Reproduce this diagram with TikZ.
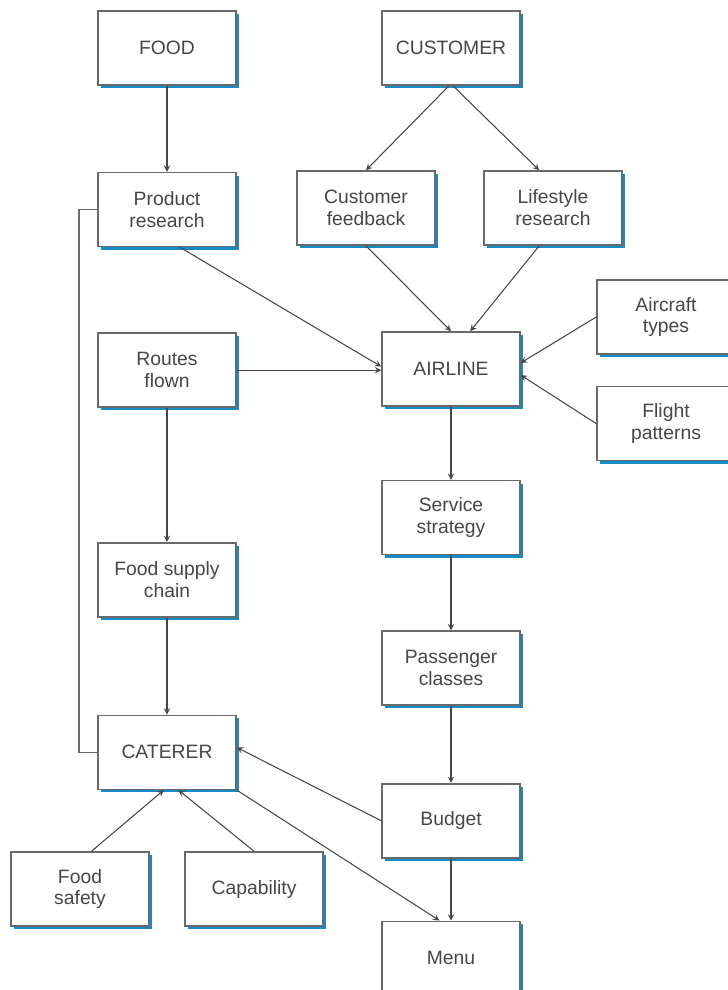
\documentclass[tikz,border=0pt]{standalone}
\usepackage{fontspec}
\setmainfont{Liberation Sans}
\usetikzlibrary{positioning, shadows}

\definecolor{shadowblue}{RGB}{20,140,200}
\definecolor{boxgray}{RGB}{105,105,105}
\definecolor{textgray}{RGB}{70,70,70}

\tikzset{
  box/.style={draw=boxgray, line width=0.9pt, fill=white,
    minimum width=2.76cm, minimum height=1.48cm, inner sep=0pt,
    align=center, text=textgray, font=\fontsize{11}{12.5}\selectfont,
    drop shadow={shadow xshift=1.7pt, shadow yshift=-1.7pt,
      fill=shadowblue, opacity=1}},
  link/.style={->, >=stealth, draw=textgray, line width=0.6pt}
}

\begin{document}
\begin{tikzpicture}
    \useasboundingbox (0,0) rectangle (14.54,-19.8);

    \node[box] (food) at (3.34,-0.96) {FOOD};
    \node[box] (customer) at (9.02,-0.96) {CUSTOMER};

    \node[box, below = 1.72 of food] (product-research) {Product\\research};
    \node[box] (customer-feedback) at (7.32,-4.16) {Customer\\feedback};
    \node[box] (lifestyle-research) at (11.06,-4.16) {Lifestyle\\research};

    \node[box] (airline) at (9.02,-7.38) {AIRLINE};
    \node[box] (aircraft-types) at (13.32,-6.34) {Aircraft\\types};
    \node[box, below = 0.62 of aircraft-types] (flight-patterns)
      {Flight\\patterns};

    \node[box, below = 1.7 of product-research] (routes-flown)
      {Routes\\flown};
    \node[box, below = 2.68 of routes-flown] (food-supply-chain)
      {Food supply\\chain};
    \node[box, below = 1.94 of food-supply-chain] (caterer) {CATERER};

    \node[box, below = 1.46 of airline] (service-strategy)
      {Service\\strategy};
    \node[box, below = 1.5 of service-strategy] (passenger-classes)
      {Passenger\\classes};
    \node[box, below = 1.54 of passenger-classes] (budget) {Budget};
    \node[box, below = 1.24 of budget] (menu) {Menu};

    \node[box] (food-safety) at (1.6,-17.78) {Food\\safety};
    \node[box] (capability) at (5.08,-17.78) {Capability};

    \draw[link] (food) -- (product-research);
    \draw[link] (customer.-93) -- (customer-feedback.north);
    \draw[link] (customer.-87) -- (lifestyle-research.110);

    \draw[link] (product-research.-71) -- (airline.178);
    \draw[link] (routes-flown.east) -- (routes-flown.east -| airline.west);
    \draw[link] (customer-feedback.south) -- (airline.north);
    \draw[link] (lifestyle-research.-110) -- (airline.63);
    \draw[link] (aircraft-types.west) -- (airline.5);
    \draw[link] (flight-patterns.west) -- (airline.-5);

    \foreach \a/\b in {airline/service-strategy,
      service-strategy/passenger-classes, passenger-classes/budget,
      budget/menu, routes-flown/food-supply-chain,
      food-supply-chain/caterer}{
      \draw[link] (\a) -- (\b);
    }

    \draw[link] (budget.west) -- (caterer.4);
    \draw[link] (caterer.south east) -- (menu.107);
    \draw[link] (food-safety.73) -- (caterer.-95);
    \draw[link] (capability.north) -- (caterer.-73);

    \draw[draw=boxgray, line width=0.9pt] (product-research.west)
      -- ++(-0.36,0) |- (caterer.west);
\end{tikzpicture}
\end{document}
